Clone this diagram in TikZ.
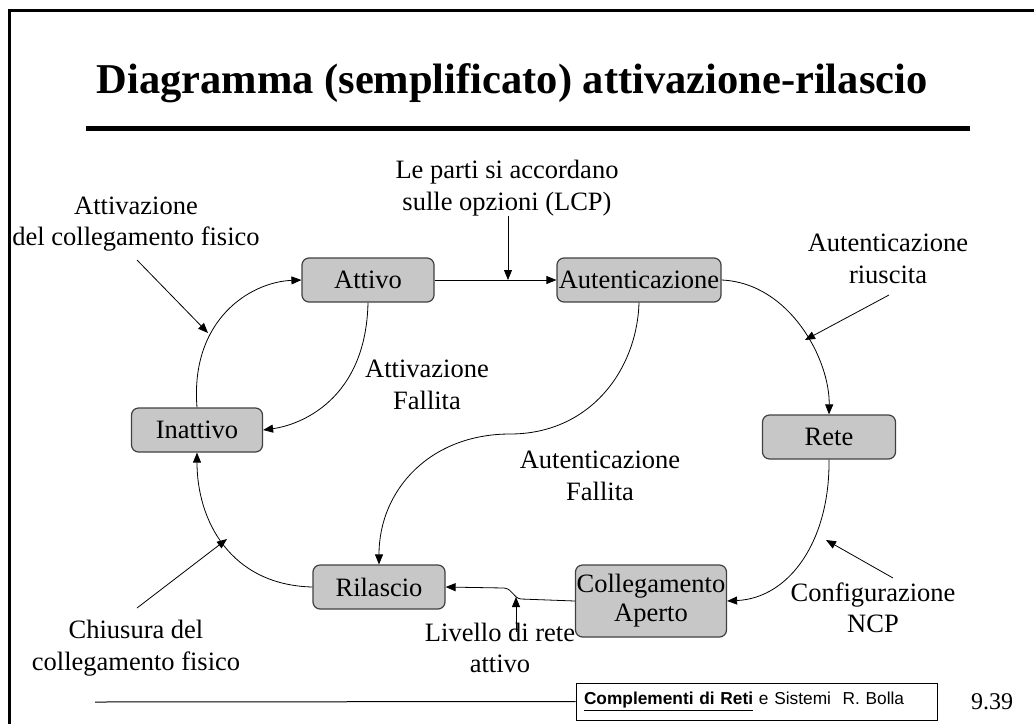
\documentclass[tikz,border=0pt]{standalone}
\usepackage{fontspec}
\setmainfont{Liberation Serif}
\newfontfamily\footfont{Liberation Sans}
\usetikzlibrary{arrows.meta}

\begin{document}
\begin{tikzpicture}[x=1pt,y=-1pt,
statebox/.style={rectangle, rounded corners=7pt, draw=black!75, fill=black!22, line width=1.2pt, minimum height=44pt, inner sep=1pt, font=\fontsize{26.5}{31}\selectfont},
txt/.style={align=center, inner sep=0pt, font=\fontsize{26.5}{31.5}\selectfont},
arr/.style={-{Triangle[length=10pt,width=8pt]}, line width=0.8pt},
]
    \useasboundingbox (0,0) rectangle (1034,724);
    % frame and title
    \draw[line width=3pt] (9,724) -- (9,10) -- (1034,10);
    \node [anchor=base, inner sep=0pt, font=\fontsize{42.5}{48}\bfseries] (title) at (512,93) {Diagramma (semplificato) attivazione-rilascio};
    \draw[line width=5pt] (86,128) -- (970,128);

    \node [statebox, minimum width=132pt] (att) at (368,280) {Attivo};
    \node [statebox, minimum width=164pt] (aut) at (639,280) {Autenticazione};
    \node [statebox, minimum width=133pt] (rete) at (829,437) {Rete};
    \node [statebox, minimum width=131pt] (ina) at (197,430) {Inattivo};
    \node [statebox, minimum width=132pt] (ril) at (379,587) {Rilascio};
    \node [statebox, minimum width=151pt, minimum height=72pt, align=center, font=\fontsize{26.5}{29}\selectfont] (coll) at (651,601) {Collegamento\\Aperto};

    \node [txt] (lblfis) at (136,224) {Attivazione\\del collegamento fisico};
    \node [txt] (lbllcp) at (507,188) {Le parti si accordano\\sulle opzioni (LCP)};
    \node [txt] (lblok) at (888,259) {Autenticazione\\riuscita};
    \node [txt] (lblattko) at (427,385) {Attivazione\\Fallita};
    \node [txt] (lblautko) at (600,476) {Autenticazione\\Fallita};
    \node [txt] (lblchius) at (136,648) {Chiusura del\\collegamento fisico};
    \node [txt] (lblliv) at (500,648) {Livello di rete\\attivo};
    \node [txt] (lblncp) at (873,608) {Configurazione\\NCP};

    \coordinate (pfis) at (208,333);
    \coordinate (plcp) at (508,280);
    \coordinate (pok) at (805,340);
    \coordinate (pchius) at (227,539);
    \coordinate (pliv) at (516,597);
    \coordinate (pncp) at (826,540);

    % transitions
    \draw[arr] (att) -- (aut);
    \draw[arr] (ina.north) .. controls (190,320) and (250,282) .. (att.west);
    \draw[arr] (att.south) .. controls (366,400) and (300,425) .. (ina.east);
    \draw[arr] (aut.east) .. controls (790,283) and (830,360) .. (rete.north);
    \draw[arr] (rete.south) .. controls (830,540) and (790,598) .. (coll.east);
    \draw[arr] (aut.south) .. controls (637,370) and (590,434) .. (510,434) .. controls (430,434) and (379,490) .. (ril.north);
    \draw[arr] (coll.west) -- (521,599) .. controls (513,598) and (513,589) .. (504,588) -- (ril.east);
    \draw[arr] (ril.west) .. controls (230,585) and (197,520) .. (ina.south);

    % pointers
    \draw[arr] (137,260) -- (pfis);
    \draw[arr] (lbllcp.south -| plcp) -- (plcp);
    \draw[arr] (889,295) -- (pok);
    \draw[arr] (137,608) -- (pchius);
    \draw[arr] (516,632) -- (pliv);
    \draw[arr] (893,578) -- (pncp);

    % footer
    \node [draw, line width=1pt, minimum width=361pt, minimum height=37pt, text width=345pt, align=left, inner sep=0pt, font=\footfont\fontsize{17.3}{20}\selectfont] (foot) at (756.5,701.5) {\underline{\textbf{Complementi di Reti}} e Sistemi\ \ R. Bolla};
    \draw[line width=1pt] (95,702) -- (foot.west);
    \node [inner sep=0pt, font=\fontsize{24}{28}\selectfont] (pag) at (992,702) {9.39};
\end{tikzpicture}
\end{document}
